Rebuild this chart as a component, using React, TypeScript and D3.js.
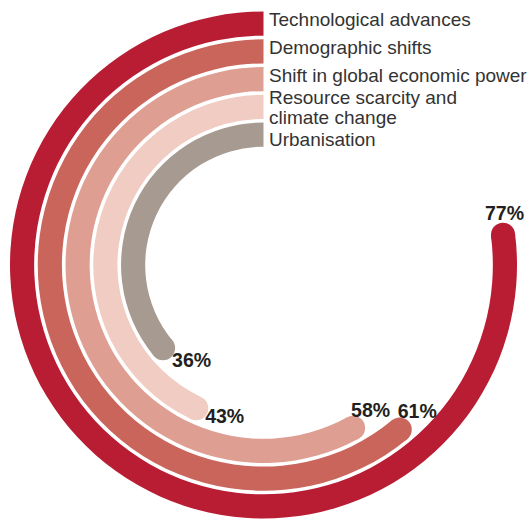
import * as d3 from "d3";
import { useEffect, useRef } from "react";

const categories = [
  "Technological advances",
  "Demographic shifts",
  "Shift in global economic power",
  "Resource scarcity and climate change",
  "Urbanisation",
];
const values = [77, 61, 58, 43, 36];
const labelLines = [
  ["Technological advances"],
  ["Demographic shifts"],
  ["Shift in global economic power"],
  ["Resource scarcity and", "climate change"],
  ["Urbanisation"],
];
const colors = ["#b91d34", "#ca655b", "#df9e92", "#f0ccc3", "#a79b91"];

// where the value label sits relative to the arc end
const valueOffsets = [
  { dx: 1.5, dy: -15, anchor: "middle" },
  { dx: -2, dy: -12, anchor: "start" },
  { dx: -2, dy: -11, anchor: "start" },
  { dx: 9, dy: 15, anchor: "start" },
  { dx: 9, dy: 19, anchor: "start" },
];
const labelDy = [2.5, 2.5, 3, -2.5, 11.5];

const RadialBars = () => {
  const svgRef = useRef<SVGSVGElement | null>(null);

  useEffect(() => {
    const width = 530;
    const height = 520;
    const cx = 263.5;
    const cy = 265;

    d3.select(svgRef.current).selectAll("*").remove();
    const svg = d3
      .select(svgRef.current)
      .attr("width", width)
      .attr("height", height)
      .append("g")
      .attr("transform", `translate(${cx}, ${cy})`);

    const r = d3
      .scaleBand<string>()
      .domain(categories)
      .range([253.5, 118.3])
      .paddingInner(0.13);
    const bw = r.bandwidth();

    const angle = d3.scaleLinear().domain([0, 100]).range([0, -2 * Math.PI]);

    const arc = d3
      .arc<any>()
      .innerRadius((d) => r(d.cat) as number)
      .outerRadius((d) => (r(d.cat) as number) + bw)
      .startAngle(0)
      .endAngle((d) => angle(d.value));

    const rows = categories.map((cat, i) => {
      const mid = (r(cat) as number) + bw / 2;
      const a = angle(values[i]);
      return {
        cat,
        value: values[i],
        color: colors[i],
        mid,
        ex: mid * Math.sin(a),
        ey: -mid * Math.cos(a),
        i,
      };
    });

    svg
      .selectAll(".bar")
      .data(rows)
      .enter()
      .append("path")
      .attr("class", "bar")
      .attr("fill", (d) => d.color)
      .attr("d", arc);

    svg
      .selectAll(".cap")
      .data(rows)
      .enter()
      .append("circle")
      .attr("class", "cap")
      .attr("cx", (d) => d.ex)
      .attr("cy", (d) => d.ey)
      .attr("r", bw / 2)
      .attr("fill", (d) => d.color);

    const labels = svg
      .selectAll(".label")
      .data(rows)
      .enter()
      .append("text")
      .attr("class", "label")
      .attr("x", 5.5)
      .attr("y", (d) => -d.mid + labelDy[d.i])
      .attr("font-family", "'Liberation Sans', Arial, sans-serif")
      .attr("font-size", 19)
      .attr("fill", "#333");
    labels
      .selectAll("tspan")
      .data((d) => labelLines[d.i].map((t, k) => ({ t, k })))
      .enter()
      .append("tspan")
      .attr("x", 5.5)
      .attr("dy", (d) => (d.k === 0 ? 0 : 19.3))
      .text((d) => d.t);

    svg
      .selectAll(".value")
      .data(rows)
      .enter()
      .append("text")
      .attr("class", "value")
      .attr("x", (d) => d.ex + valueOffsets[d.i].dx)
      .attr("y", (d) => d.ey + valueOffsets[d.i].dy)
      .attr("text-anchor", (d) => valueOffsets[d.i].anchor)
      .attr("font-family", "'Liberation Sans', Arial, sans-serif")
      .attr("font-size", 19.5)
      .attr("font-weight", "bold")
      .attr("fill", "#231f20")
      .text((d) => `${d.value}%`);
  }, []);

  return (
    <svg ref={svgRef} style={{ position: "absolute", left: 0, top: 0 }}></svg>
  );
};

export default function App() {
  return <RadialBars />;
}
